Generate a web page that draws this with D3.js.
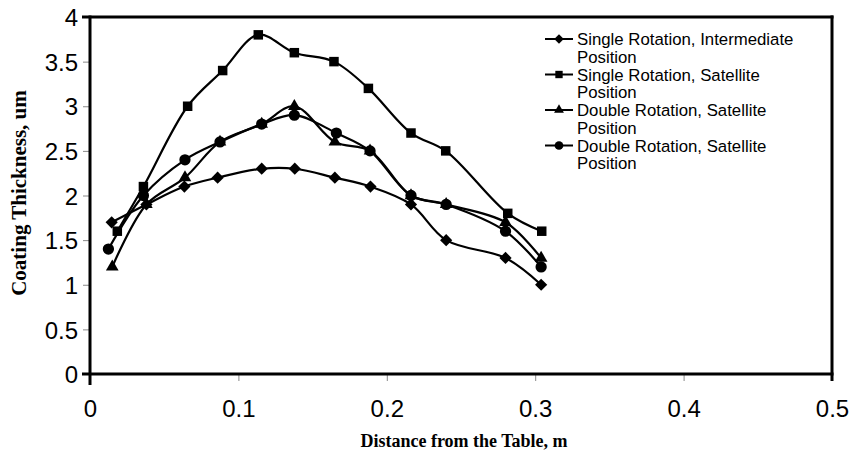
<!DOCTYPE html>
<html>
<head>
<meta charset="utf-8">
<script src="https://cdn.jsdelivr.net/npm/d3@7"></script>
<style>
  html, body { margin: 0; padding: 0; background: #fff; }
  svg { display: block; }
</style>
</head>
<body>
<svg id="chart" width="850" height="459"></svg>
<script>
// Coating thickness (um) vs. distance from the table (m)
const xTicks = [0, 0.1, 0.2, 0.3, 0.4, 0.5];
const yTicks = [0, 0.5, 1, 1.5, 2, 2.5, 3, 3.5, 4];

const singleIntermediateX = [0.0146, 0.038, 0.0636, 0.086, 0.1157, 0.138, 0.165, 0.189, 0.2163, 0.24, 0.28, 0.304];
const singleIntermediateY = [1.7, 1.9, 2.1, 2.2, 2.3, 2.3, 2.2, 2.1, 1.9, 1.5, 1.3, 1.0];

const singleSatelliteX = [0.0184, 0.036, 0.0658, 0.0894, 0.1134, 0.1377, 0.1644, 0.1876, 0.2163, 0.2397, 0.2815, 0.3044];
const singleSatelliteY = [1.6, 2.1, 3.0, 3.4, 3.8, 3.6, 3.5, 3.2, 2.7, 2.5, 1.8, 1.6];

const doubleSatelliteAX = [0.015, 0.038, 0.064, 0.0876, 0.1157, 0.1377, 0.165, 0.1887, 0.2163, 0.24, 0.28, 0.304];
const doubleSatelliteAY = [1.2, 1.9, 2.2, 2.6, 2.8, 3.0, 2.6, 2.5, 2.0, 1.9, 1.7, 1.3];

const doubleSatelliteBX = [0.0124, 0.036, 0.064, 0.0876, 0.1157, 0.1377, 0.166, 0.1887, 0.2163, 0.24, 0.28, 0.304];
const doubleSatelliteBY = [1.4, 2.0, 2.4, 2.6, 2.8, 2.9, 2.7, 2.5, 2.0, 1.9, 1.6, 1.2];

const seriesNames = [
  ["Single Rotation, Intermediate", "Position"],
  ["Single Rotation, Satellite", "Position"],
  ["Double Rotation, Satellite", "Position"],
  ["Double Rotation, Satellite", "Position"]
];
const seriesX = [singleIntermediateX, singleSatelliteX, doubleSatelliteAX, doubleSatelliteBX];
const seriesY = [singleIntermediateY, singleSatelliteY, doubleSatelliteAY, doubleSatelliteBY];
const markerTypes = [d3.symbolDiamond2, d3.symbolSquare2, d3.symbolTriangle2, d3.symbolCircle];
const markerSizes = [95, 115, 115, 100];

const svg = d3.select("#chart");
const plotLeft = 90, plotRight = 832, plotTop = 17, plotBottom = 374;

const x = d3.scaleLinear().domain([0, 0.5]).range([plotLeft, plotRight]);
const y = d3.scaleLinear().domain([0, 4]).range([plotBottom, plotTop]);

// Axes: thin ticks and labels
const xAxis = svg.append("g")
  .attr("transform", `translate(0,${plotBottom})`)
  .call(d3.axisBottom(x).tickValues(xTicks).tickSize(7).tickPadding(19)
    .tickFormat(d => String(+d.toFixed(1))));
const yAxis = svg.append("g")
  .attr("transform", `translate(${plotLeft},0)`)
  .call(d3.axisLeft(y).tickValues(yTicks).tickSize(7).tickPadding(5)
    .tickFormat(d => String(d)));

[xAxis, yAxis].forEach(g => {
  g.select(".domain").remove();
  g.selectAll(".tick line").attr("stroke", "#888").attr("stroke-width", 1);
  g.selectAll(".tick text")
    .attr("fill", "#000")
    .style("font-family", "'Liberation Sans', Arial, sans-serif")
    .style("font-size", "24px");
});
yAxis.selectAll(".tick text").attr("dy", "0.36em");

// Plot frame
const frame = svg.append("g").attr("stroke", "#000").attr("stroke-width", 3).attr("fill", "none");
frame.append("line").attr("x1", x(0) - 8).attr("x2", x(0.5) + 1.5).attr("y1", y(4)).attr("y2", y(4));
frame.append("line").attr("x1", x(0) - 8).attr("x2", x(0.5) + 1.5).attr("y1", y(0)).attr("y2", y(0));
frame.append("line").attr("x1", x(0)).attr("x2", x(0)).attr("y1", y(4) - 1.5).attr("y2", y(0) + 11);
frame.append("line").attr("x1", x(0.5)).attr("x2", x(0.5)).attr("y1", y(4) - 1.5).attr("y2", y(0) + 7);

// Series lines and markers
const line = d3.line().x(d => x(d[0])).y(d => y(d[1])).curve(d3.curveCatmullRom.alpha(0.5));

seriesX.forEach((xs, i) => {
  const pts = xs.map((v, j) => [v, seriesY[i][j]]);
  svg.append("path")
    .datum(pts)
    .attr("d", line)
    .attr("fill", "none")
    .attr("stroke", "#000")
    .attr("stroke-width", 2.2);
  svg.append("g").selectAll("path")
    .data(pts)
    .join("path")
    .attr("transform", d => `translate(${x(d[0])},${y(d[1])})`)
    .attr("d", d3.symbol().type(markerTypes[i]).size(markerSizes[i]))
    .attr("fill", "#000");
});

// Legend
const legend = svg.append("g").attr("transform", "translate(545,39)");
seriesNames.forEach((lines, i) => {
  const g = legend.append("g").attr("transform", `translate(0,${i * 35.5})`);
  g.append("line").attr("x1", 0).attr("x2", 28).attr("y1", 0).attr("y2", 0)
    .attr("stroke", "#000").attr("stroke-width", 2);
  g.append("path").attr("transform", "translate(14,0)")
    .attr("d", d3.symbol().type(markerTypes[i]).size(markerSizes[i] * 0.6))
    .attr("fill", "#000");
  lines.forEach((t, k) => {
    g.append("text")
      .attr("x", 32).attr("y", k * 17.7).attr("dy", "0.36em")
      .style("font-family", "'Liberation Sans', Arial, sans-serif")
      .style("font-size", "16.8px")
      .text(t);
  });
});

// Axis titles
svg.append("text")
  .attr("x", (plotLeft + plotRight) / 2 + 3).attr("y", 447)
  .attr("text-anchor", "middle")
  .style("font-family", "'Liberation Serif', 'Times New Roman', serif")
  .style("font-weight", "bold")
  .style("font-size", "18px")
  .text("Distance from the Table, m");
svg.append("text")
  .attr("transform", "translate(26,193) rotate(-90)")
  .attr("text-anchor", "middle")
  .style("font-family", "'Liberation Serif', 'Times New Roman', serif")
  .style("font-weight", "bold")
  .style("font-size", "21px")
  .text("Coating Thickness, um");
</script>
</body>
</html>
